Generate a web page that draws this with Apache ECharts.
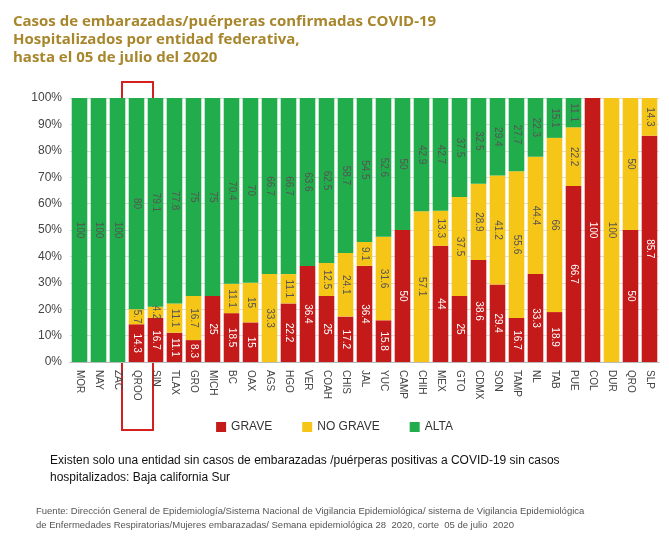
<!DOCTYPE html><html><head><meta charset="utf-8"><script src="https://cdn.jsdelivr.net/npm/echarts@6/dist/echarts.min.js"></script>
<style>body{margin:0}#c{width:669px;height:546px}</style></head><body><div id="c"></div><script>
const categories=["MOR","NAY","ZAC","QROO","SIN","TLAX","GRO","MICH","BC","OAX","AGS","HGO","VER","COAH","CHIS","JAL","YUC","CAMP","CHIH","MEX","GTO","CDMX","SON","TAMP","NL","TAB","PUE","COL","DUR","QRO","SLP"];
const grave=[0,0,0,14.3,16.7,11.1,8.3,25,18.5,15,0,22.2,36.4,25,17.2,36.4,15.8,50,0,44,25,38.6,29.4,16.7,33.3,18.9,66.7,100,0,50,85.7];
const noGrave=[0,0,0,5.7,4.2,11.1,16.7,0,11.1,15,33.3,11.1,0,12.5,24.1,9.1,31.6,0,57.1,13.3,37.5,28.9,41.2,55.6,44.4,66,22.2,0,100,50,14.3];
const alta=[100,100,100,80,79.1,77.8,75,75,70.4,70,66.7,66.7,63.6,62.5,58.7,54.5,52.6,50,42.9,42.7,37.5,32.5,29.4,27.7,22.3,15.1,11.1,0,0,0,0];
const ser=(name,data,color,lc)=>({name,type:'bar',stack:'s',data,barWidth:'82%',itemStyle:{color},
 label:{show:true,rotate:-90,color:lc,fontSize:10,formatter:p=>p.value>0?p.value:''}});
const chart=echarts.init(document.getElementById('c'));
chart.setOption({
 title:{text:'Casos de embarazadas/puérperas confirmadas COVID-19\nHospitalizados por entidad federativa,\nhasta el 05 de julio del 2020',left:8,top:8,textStyle:{color:'#a8862c',fontSize:15,fontWeight:'bold',lineHeight:18,fontFamily:'Open Sans'}},
 legend:{bottom:108,left:'center',itemWidth:10,itemHeight:10,icon:'rect',itemGap:30,textStyle:{fontSize:12,color:'#333'},data:['GRAVE','NO GRAVE','ALTA']},
 grid:{left:70,right:10,top:98,bottom:184},
 xAxis:{type:'category',data:categories,axisTick:{show:false},axisLine:{lineStyle:{color:'#bbb'}},axisLabel:{rotate:-90,fontSize:10,color:'#444',interval:0}},
 yAxis:{type:'value',min:0,max:100,interval:10,axisLabel:{formatter:'{value}%',color:'#444',fontSize:12},splitLine:{lineStyle:{color:'#ddd'}}},
 series:[ser('GRAVE',grave,'#c41a1a','#fff'),ser('NO GRAVE',noGrave,'#f5c518','#555'),ser('ALTA',alta,'#21ad4b','#555')],
 graphic:[
  {type:'rect',shape:{x:122,y:82,width:31,height:348},style:{fill:'none',stroke:'#d42020',lineWidth:2}},
  {type:'text',left:50,top:452,style:{text:'Existen solo una entidad sin casos de embarazadas /puérperas positivas a COVID-19 sin casos\nhospitalizados: Baja california Sur',fontSize:12,lineHeight:17,fill:'#111'}},
  {type:'text',left:36,top:504,style:{text:'Fuente: Dirección General de Epidemiología/Sistema Nacional de Vigilancia Epidemiológica/ sistema de Vigilancia Epidemiológica\nde Enfermedades Respiratorias/Mujeres embarazadas/ Semana epidemiológica 28  2020, corte  05 de julio  2020',fontSize:9.5,lineHeight:14,fill:'#555'}}
 ]
});
</script></body></html>
